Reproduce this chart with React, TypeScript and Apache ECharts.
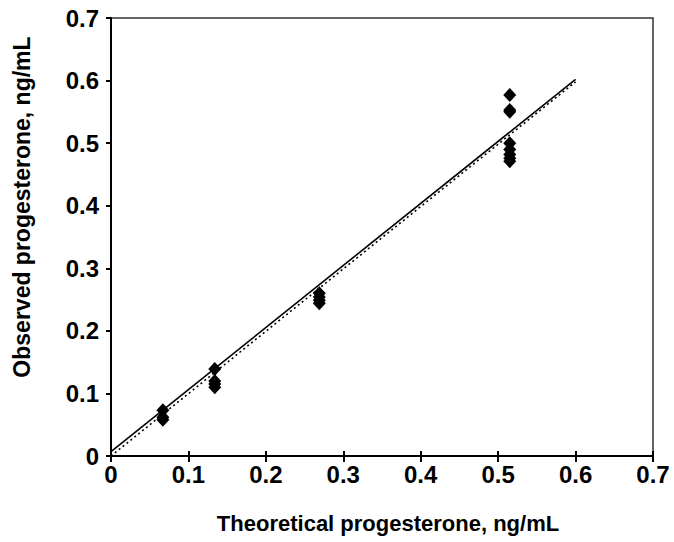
import React, { useEffect, useRef } from "react";
import * as echarts from "echarts";

const xTicks = [0, 0.1, 0.2, 0.3, 0.4, 0.5, 0.6, 0.7];
const theoretical = [0.067, 0.134, 0.269, 0.515];
const observedAt0067 = [0.073, 0.062, 0.058];
const observedAt0134 = [0.139, 0.12, 0.115, 0.11];
const observedAt0269 = [0.26, 0.254, 0.249, 0.244];
const observedAt0515 = [0.577, 0.553, 0.55, 0.5, 0.49, 0.482, 0.476, 0.471];
const fitX = [0, 0.6];
const fitY = [0.007, 0.602];
const identityY = [0, 0.598];

const xTitle = "Theoretical progesterone, ng/mL";
const yTitle = "Observed progesterone, ng/mL";

export default function App() {
  const ref = useRef<HTMLDivElement>(null);
  useEffect(() => {
    if (!ref.current) return;
    const chart = echarts.init(ref.current, null, { renderer: "svg" });
    const groups = [observedAt0067, observedAt0134, observedAt0269, observedAt0515];
    const points: number[][] = [];
    groups.forEach((g, i) => g.forEach((v) => points.push([theoretical[i], v])));
    const fmt = (v: number) => (v === 0 ? "0" : v.toFixed(1));
    const font = "Liberation Sans, Arial, sans-serif";
    chart.setOption({
      animation: false,
      backgroundColor: "#fff",
      grid: {
        left: 111,
        top: 18,
        right: 21,
        bottom: 86,
        show: true,
        borderColor: "#333",
        borderWidth: 1.5,
      },
      xAxis: [
        {
          type: "value",
          min: 0,
          max: 0.7,
          interval: 0.1,
          position: "bottom",
          splitLine: { show: false },
          axisLine: { lineStyle: { color: "#000", width: 2 } },
          axisTick: { length: 6, lineStyle: { color: "#000", width: 2 } },
          axisLabel: {
            formatter: fmt,
            color: "#000",
            fontSize: 24,
            fontWeight: "bold",
            fontFamily: font,
            margin: 6,
          },
        },
        {
          type: "value",
          min: 0,
          max: 0.7,
          interval: 0.1,
          position: "bottom",
          splitLine: { show: false },
          axisLine: { show: false },
          axisTick: { inside: true, length: 5, lineStyle: { color: "#000", width: 2 } },
          axisLabel: { show: false },
        },
      ],
      yAxis: {
        type: "value",
        min: 0,
        max: 0.7,
        interval: 0.1,
        splitLine: { show: false },
        axisLine: { show: true, lineStyle: { color: "#000", width: 2 } },
        axisTick: { show: true, length: 5, lineStyle: { color: "#000", width: 2 } },
        axisLabel: {
          formatter: fmt,
          color: "#000",
          fontSize: 24,
          fontWeight: "bold",
          fontFamily: font,
          margin: 12,
        },
      },
      graphic: [
        {
          type: "text",
          x: 388,
          y: 523,
          style: {
            text: xTitle,
            fontSize: 22,
            fontWeight: "bold",
            fontFamily: font,
            fill: "#000",
            textAlign: "center",
            textVerticalAlign: "middle",
          },
        },
        {
          type: "text",
          x: 22,
          y: 207,
          rotation: Math.PI / 2,
          style: {
            text: yTitle,
            fontSize: 23,
            fontWeight: "bold",
            fontFamily: font,
            fill: "#000",
            textAlign: "center",
            textVerticalAlign: "middle",
          },
        },
      ],
      series: [
        {
          type: "line",
          data: fitX.map((x, i) => [x, identityY[i]]),
          symbol: "none",
          lineStyle: { color: "#000", width: 1.6, type: [2, 3] },
          z: 2,
        },
        {
          type: "line",
          data: fitX.map((x, i) => [x, fitY[i]]),
          symbol: "none",
          lineStyle: { color: "#000", width: 1.6 },
          z: 3,
        },
        {
          type: "scatter",
          data: points,
          symbol: "diamond",
          symbolSize: [13, 14],
          itemStyle: { color: "#000", opacity: 1 },
          z: 4,
        },
      ],
    });
    return () => chart.dispose();
  }, []);
  return (
    <div
      ref={ref}
      style={{ position: "absolute", left: 0, top: 0, width: 674, height: 542 }}
    />
  );
}
